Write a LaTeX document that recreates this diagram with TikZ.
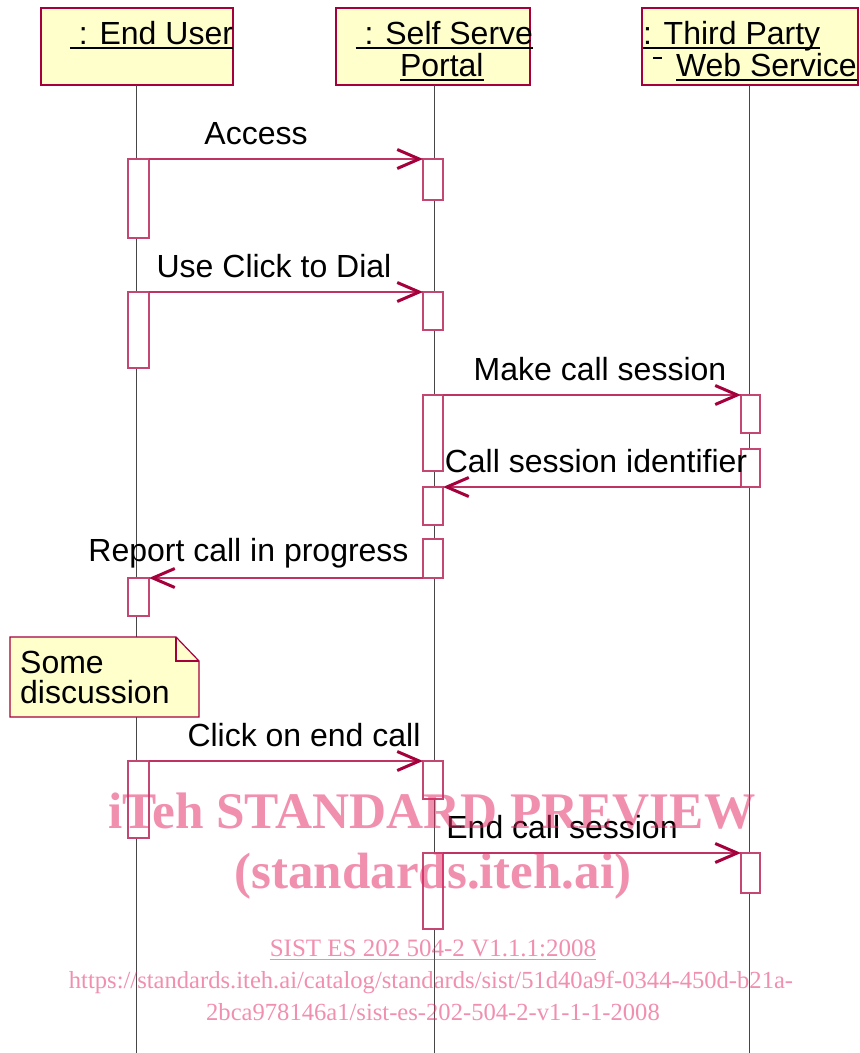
\documentclass[tikz,border=0pt]{standalone}
\usepackage{fontspec}
\setmainfont{Liberation Sans}
\newfontfamily\wmserif{Liberation Serif}
\usetikzlibrary{arrows.meta}
\definecolor{umlred}{RGB}{165,0,60}
\definecolor{msgred}{RGB}{190,50,100}
\definecolor{actred}{RGB}{195,70,115}
\definecolor{noteyellow}{RGB}{255,255,204}
\definecolor{lifegray}{RGB}{70,70,70}
\definecolor{wmpink}{RGB}{228,40,100}
\begin{document}
\begin{tikzpicture}[x=1pt,y=-1pt,
  hdrbox/.style={draw=umlred, fill=noteyellow, line width=1.2pt, inner sep=0pt, outer sep=0pt, anchor=north west},
  hdrtext/.style={font=\fontsize{32}{36}\selectfont, inner sep=0pt, outer sep=0pt, text depth=0pt},
  uline/.style={line width=2.8pt, black},
  life/.style={draw=lifegray, line width=1pt},
  act/.style={draw=actred, fill=white, line width=1.3pt, inner sep=0pt, outer sep=0pt, anchor=north west},
  msg/.style={draw=msgred, line width=1.3pt, -{Straight Barb[length=22pt,width=19pt,line width=3pt,color=umlred]}},
  msglabel/.style={font=\fontsize{32}{36}\selectfont, inner sep=0pt, anchor=base},
  notestyle/.style={draw=umlred, fill=noteyellow, line width=1.2pt, line join=miter},
  wm/.style={text=wmpink, text opacity=0.52, inner sep=0pt, anchor=base}
]
\useasboundingbox (0,0) rectangle (860,1053);

% header boxes
\node[hdrbox, minimum width=192pt, minimum height=77pt] (eu) at (41,8) {};
\node[hdrbox, minimum width=194pt, minimum height=77pt] (pp) at (336,8) {};
\node[hdrbox, minimum width=216pt, minimum height=77pt] (tp) at (642,8) {};

% lifelines
\coordinate (eubot) at (136,1053);
\coordinate (ppbot) at (434,1053);
\coordinate (tpbot) at (749,1053);
\draw[life] (eu.south -| eubot) -- (eubot);
\draw[life] (pp.south -| ppbot) -- (ppbot);
\draw[life] (tp.south -| tpbot) -- (tpbot);

% header texts
\node[hdrtext, anchor=base east] (eut) at (233,44.5) {~: End User};
\node[hdrtext, anchor=base east] (ppt1) at (533,44.5) {~: Self Serve};
\node[hdrtext, anchor=base west] (ppt2) at (400,76.5) {Portal};
\node[hdrtext, anchor=base west] (tpt1) at (643,44.5) {: Third Party};
\node[hdrtext, anchor=base west] (tpt2) at (676,76.5) {Web Service};
\foreach \n in {eut,ppt1,ppt2,tpt1,tpt2}
  \draw[uline] ([yshift=-3.5pt]\n.south west) -- ([yshift=-3.5pt]\n.south east);
\coordinate (dashA) at (653,58);
\coordinate (dashB) at (662,58);
\draw[line width=1.8pt] (dashA) -- (dashB);

% activation boxes
\node[act, minimum width=21pt, minimum height=79pt] (eu1) at (128,159) {};
\node[act, minimum width=21pt, minimum height=76pt] (eu2) at (128,292) {};
\node[act, minimum width=21pt, minimum height=38pt] (eu3) at (128,578) {};
\node[act, minimum width=21pt, minimum height=77pt] (eu4) at (128,761) {};
\node[act, minimum width=20pt, minimum height=41pt] (p1) at (423,159) {};
\node[act, minimum width=20pt, minimum height=38pt] (p2) at (423,292) {};
\node[act, minimum width=20pt, minimum height=76pt] (p3) at (423,395) {};
\node[act, minimum width=20pt, minimum height=38pt] (p4) at (423,487) {};
\node[act, minimum width=20pt, minimum height=39pt] (p5) at (423,539) {};
\node[act, minimum width=20pt, minimum height=38pt] (p6) at (423,761) {};
\node[act, minimum width=20pt, minimum height=76pt] (p7) at (423,853) {};
\node[act, minimum width=19pt, minimum height=38pt] (t1) at (741,395) {};
\node[act, minimum width=19pt, minimum height=38pt] (t2) at (741,449) {};
\node[act, minimum width=19pt, minimum height=40pt] (t3) at (741,853) {};

% note
\coordinate (nA) at (10,637);
\coordinate (nB) at (176,637);
\coordinate (nC) at (199,661);
\coordinate (nD) at (199,717);
\coordinate (nE) at (10,717);
\draw[notestyle] (nA) -- (nB) -- (nC) -- (nD) -- (nE) -- cycle;
\draw[draw=umlred, line width=1.2pt] (nB) -- (nB |- nC) -- (nC);
\node[msglabel, anchor=base west] (note1) at (20,673.5) {Some};
\node[msglabel, anchor=base west] (note2) at (20,703) {discussion};

% messages
\draw[msg] (eu1.north east) -- (p1.north west);
\draw[msg] (eu2.north east) -- (p2.north west);
\draw[msg] (p3.north east) -- (t1.north west);
\draw[msg] (t2.south west) -- (p4.north east);
\draw[msg] (p5.south west) -- (eu3.north east);
\draw[msg] (eu4.north east) -- (p6.north west);
\draw[msg] (p7.north east) -- (t3.north west);

% message labels
\node[msglabel] (l1) at (256,144) {Access};
\node[msglabel] (l2) at (274,277) {Use Click to Dial};
\node[msglabel] (l3) at (600,380) {Make call session};
\node[msglabel] (l4) at (596,472) {Call session identifier};
\node[msglabel] (l5) at (248.5,561) {Report call in progress};
\node[msglabel] (l6) at (304,746) {Click on end call};
\node[msglabel] (l7) at (562,838) {End call session};

% watermark
\node[wm, font=\wmserif\bfseries\fontsize{51.3}{55}\selectfont] (wm1) at (432,828) {iTeh STANDARD PREVIEW};
\node[wm, font=\wmserif\bfseries\fontsize{51}{55}\selectfont] (wm2) at (433,888) {(standards.iteh.ai)};
\node[wm, font=\wmserif\fontsize{25}{28}\selectfont] (wm3) at (433,956) {SIST ES 202 504-2 V1.1.1:2008};
\draw[wmpink, draw opacity=0.52, line width=1pt] ([yshift=-3pt]wm3.base west) -- ([yshift=-3pt]wm3.base east);
\node[wm, font=\wmserif\fontsize{24.6}{28}\selectfont] (wm4) at (431,988) {https://standards.iteh.ai/catalog/standards/sist/51d40a9f-0344-450d-b21a-};
\node[wm, font=\wmserif\fontsize{24.6}{28}\selectfont] (wm5) at (433,1020) {2bca978146a1/sist-es-202-504-2-v1-1-1-2008};
\end{tikzpicture}
\end{document}
